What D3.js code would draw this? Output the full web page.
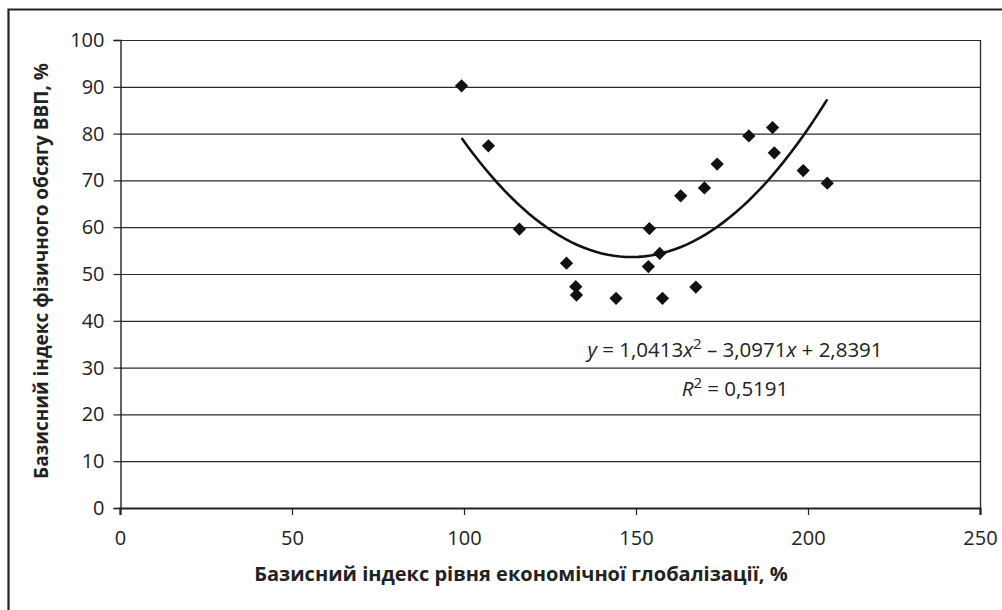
<!DOCTYPE html>
<html>
<head>
<meta charset="utf-8">
<script src="https://cdn.jsdelivr.net/npm/d3@7"></script>
<style>
  html, body { margin: 0; padding: 0; background: #fff; }
  svg { display: block; font-family: "Open Sans", sans-serif; }
</style>
</head>
<body>
<svg id="chart" width="1002" height="610"></svg>
<script>
// ---- data ----
const globalizationIndex = [99.3, 107.1, 116.1, 129.8, 132.5, 132.7, 144.2, 153.9, 153.6, 156.9,
                            157.7, 167.4, 163.0, 169.9, 173.6, 182.8, 189.7, 190.2, 198.6, 205.6];
const gdpIndex           = [90.2, 77.4, 59.6, 52.3, 47.3, 45.5, 44.8, 59.7, 51.6, 54.4,
                            44.8, 47.2, 66.7, 68.4, 73.5, 79.5, 81.3, 75.9, 72.1, 69.4];
// polynomial trend shown on the chart: y = a x^2 + b x + c (x, y as fractions of 1)
const trendCoefficients = [1.0413, -3.0971, 2.8391];
const rSquared = "0,5191";
const xTicks = [0, 50, 100, 150, 200, 250];
const yTicks = [0, 10, 20, 30, 40, 50, 60, 70, 80, 90, 100];
const xTitle = "Базисний індекс рівня економічної глобалізації, %";
const yTitle = "Базисний індекс фізичного обсягу ВВП, %";

const svg = d3.select("#chart");
const W = 1002, H = 610;
const m = { left: 120, right: 980, top: 40, bottom: 508 };
const tickFont = 20, labelFont = 20.5;

const x = d3.scaleLinear().domain([0, 250]).range([m.left, m.right]);
const y = d3.scaleLinear().domain([0, 100]).range([m.bottom, m.top]);

// outer frame (left + top)
svg.append("path")
  .attr("d", `M8.5,${H} L8.5,9.5 L${W},9.5`)
  .attr("fill", "none").attr("stroke", "#222").attr("stroke-width", 2.2);

// gridlines
svg.append("g").selectAll("line").data(yTicks.filter(d => d > 0)).join("line")
  .attr("x1", m.left).attr("x2", m.right)
  .attr("y1", d => y(d) + 0.5).attr("y2", d => y(d) + 0.5)
  .attr("stroke", "#2a2a2a").attr("stroke-width", 1.2);

// right border of plot
svg.append("line")
  .attr("x1", m.right + 0.5).attr("x2", m.right + 0.5)
  .attr("y1", m.top).attr("y2", m.bottom)
  .attr("stroke", "#2a2a2a").attr("stroke-width", 1.3);

// y axis
const yAxis = svg.append("g")
  .attr("transform", `translate(${m.left + 0.5},0)`)
  .call(d3.axisLeft(y).tickValues(yTicks).tickSize(7).tickPadding(9).tickFormat(d3.format("d")));
yAxis.select(".domain").attr("stroke", "#222").attr("stroke-width", 1.4);
yAxis.selectAll(".tick line").attr("stroke", "#222").attr("stroke-width", 1.2);
yAxis.selectAll(".tick text").attr("font-size", tickFont).attr("fill", "#222")
  .attr("font-family", "'Open Sans', sans-serif");

// x axis
const xAxis = svg.append("g")
  .attr("transform", `translate(0,${m.bottom})`)
  .call(d3.axisBottom(x).tickValues(xTicks).tickSize(7).tickPadding(16).tickFormat(d3.format("d")));
xAxis.select(".domain").attr("stroke", "#222").attr("stroke-width", 2.2);
xAxis.selectAll(".tick line").attr("stroke", "#222").attr("stroke-width", 1.2);
xAxis.selectAll(".tick text").attr("font-size", tickFont).attr("fill", "#222")
  .attr("font-family", "'Open Sans', sans-serif");

// trend line
const [a, b, c] = trendCoefficients;
const xMin = d3.min(globalizationIndex), xMax = d3.max(globalizationIndex);
const trendX = d3.range(0, 61).map(i => xMin + (xMax - xMin) * i / 60);
const trendPts = trendX.map(v => { const t = v / 100; return [v, 100 * (a * t * t + b * t + c)]; });
svg.append("path")
  .datum(trendPts)
  .attr("d", d3.line().x(d => x(d[0])).y(d => y(d[1])))
  .attr("fill", "none").attr("stroke", "#111").attr("stroke-width", 2.6);

// points (diamonds)
const diamond = d3.symbol().type(d3.symbolSquare).size(88);
svg.append("g").selectAll("path").data(globalizationIndex.map((v, i) => [v, gdpIndex[i]])).join("path")
  .attr("d", diamond)
  .attr("transform", d => `translate(${x(d[0])},${y(d[1])}) rotate(45)`)
  .attr("fill", "#111");

// equation labels
const eq = svg.append("text").attr("x", 735).attr("y", 357).attr("text-anchor", "middle")
  .attr("font-size", labelFont).attr("fill", "#222");
eq.append("tspan").attr("font-style", "italic").text("y");
eq.append("tspan").text(" = 1,0413");
eq.append("tspan").attr("font-style", "italic").text("x");
eq.append("tspan").attr("font-size", 15).attr("dy", -8).text("2");
eq.append("tspan").attr("dy", 8).text(" – 3,0971");
eq.append("tspan").attr("font-style", "italic").text("x");
eq.append("tspan").text(" + 2,8391");

const r2 = svg.append("text").attr("x", 735).attr("y", 396).attr("text-anchor", "middle")
  .attr("font-size", labelFont).attr("fill", "#222");
r2.append("tspan").attr("font-style", "italic").text("R");
r2.append("tspan").attr("font-size", 15).attr("dy", -8).text("2");
r2.append("tspan").attr("dy", 8).text(" = " + rSquared);

// axis titles
svg.append("text").attr("x", 521).attr("y", 581).attr("text-anchor", "middle")
  .attr("font-size", 20).attr("font-weight", "bold").attr("fill", "#222").text(xTitle);
svg.append("text").attr("transform", "translate(48,271) rotate(-90)").attr("text-anchor", "middle")
  .attr("font-size", 19).attr("font-weight", "bold").attr("fill", "#222").text(yTitle);
</script>
</body>
</html>
